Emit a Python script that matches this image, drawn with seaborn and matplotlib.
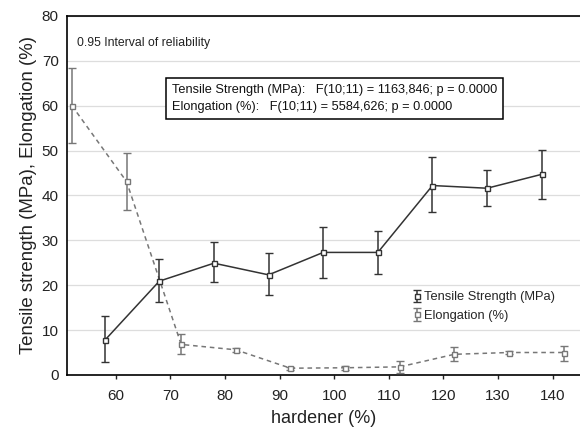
import numpy as np
import pandas as pd
import matplotlib
matplotlib.use("Agg")
import matplotlib.pyplot as plt
import seaborn as sns

# hardener levels (%) for each series
hardener_ts = [60, 70, 80, 90, 100, 110, 120, 130, 140]
hardener_el = [50, 60, 70, 80, 90, 100, 110, 120, 130, 140]

# tensile strength (MPa): mean and 0.95 interval
ts_mean = [7.7, 20.9, 24.9, 22.3, 27.3, 27.3, 42.2, 41.6, 44.7]
ts_lo = [2.8, 16.2, 20.6, 17.8, 21.5, 22.5, 36.2, 37.7, 39.2]
ts_hi = [13.1, 25.8, 29.6, 27.1, 33.0, 32.1, 48.6, 45.7, 50.1]

# elongation (%): mean and 0.95 interval
el_mean = [60.0, 43.1, 6.8, 5.6, 1.5, 1.6, 1.8, 4.6, 5.0, 5.0]
el_lo = [51.6, 36.8, 4.7, 5.1, 1.2, 1.2, 0.4, 3.2, 4.7, 3.2]
el_hi = [68.4, 49.5, 9.1, 6.1, 1.8, 2.0, 3.0, 6.3, 5.3, 6.5]

ts_label = "Tensile Strength (MPa)"
el_label = "Elongation (%)"
stats_lines = [
    "Tensile Strength (MPa):   F(10;11) = 1163,846; p = 0.0000",
    "Elongation (%):   F(10;11) = 5584,626; p = 0.0000",
]

sns.set_theme(style="whitegrid")
plt.rcParams["font.family"] = ["Liberation Sans", "DejaVu Sans"]

TS_COLOR = "#333333"
EL_COLOR = "#777777"
DODGE = 2

ts = pd.DataFrame({"x": np.array(hardener_ts) - DODGE, "mean": ts_mean,
                   "lo": ts_lo, "hi": ts_hi})
el = pd.DataFrame({"x": np.array(hardener_el) + DODGE, "mean": el_mean,
                   "lo": el_lo, "hi": el_hi})

fig = plt.figure(figsize=(5.8, 4.29), dpi=100)
ax = fig.add_axes([0.1155, 0.126, 0.8845, 0.837])

sns.lineplot(data=ts, x="x", y="mean", color=TS_COLOR, lw=1.1, ax=ax,
             legend=False, zorder=3)
sns.lineplot(data=el, x="x", y="mean", color=EL_COLOR, lw=1.1, ax=ax,
             legend=False, zorder=3, linestyle=(0, (3, 2.5)))

for df, color, label in [(ts, TS_COLOR, ts_label), (el, EL_COLOR, el_label)]:
    yerr = [df["mean"] - df["lo"], df["hi"] - df["mean"]]
    ax.errorbar(df["x"], df["mean"], yerr=yerr, fmt="s", ms=3.6,
                mfc="white", mec=color, mew=1.0, ecolor=color,
                elinewidth=1.1, capsize=3.2, capthick=1.0, label=label,
                zorder=4)

ax.set_xlim(51.1, 145)
ax.set_ylim(0, 80)
ax.set_xticks(range(60, 141, 10))
ax.set_yticks(range(0, 81, 10))
ax.grid(axis="x", visible=False)
ax.grid(axis="y", color="#dddddd", lw=0.9)
for side in ["left", "bottom", "top"]:
    ax.spines[side].set_color("black")
    ax.spines[side].set_linewidth(1.2)
ax.spines["right"].set_visible(False)
ax.tick_params(axis="both", labelsize=11, colors="#222222", length=3,
               width=1, direction="out", bottom=True, left=False, pad=3)
ax.tick_params(axis="x", pad=7)
ax.set_xlabel("hardener (%)", fontsize=13, labelpad=5, color="#222222")
ax.set_ylabel("Tensile strength (MPa), Elongation (%)", fontsize=13.4,
              labelpad=3, color="#222222")

ax.text(0.02, 0.925, "0.95 Interval of reliability", transform=ax.transAxes,
        fontsize=8.8, color="#222222", va="center")
ax.text(0.204, 0.77, "\n".join(stats_lines), transform=ax.transAxes,
        fontsize=9.2, color="#111111", va="center", linespacing=1.55,
        bbox=dict(boxstyle="square,pad=0.45", fc="white", ec="black", lw=1.1))

ax.legend(loc="center left", bbox_to_anchor=(0.66, 0.19), frameon=False,
          fontsize=9.3, handlelength=0.9, handletextpad=0.15,
          labelspacing=0.5, borderaxespad=0)

fig.savefig("out.png", dpi=100)
